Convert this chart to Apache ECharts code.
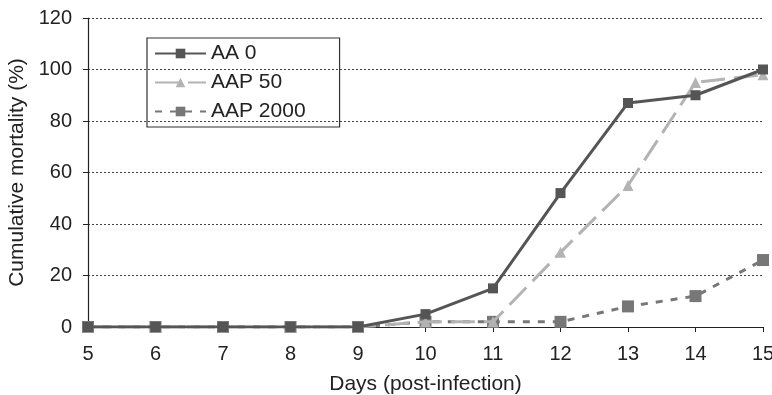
<!DOCTYPE html>
<html>
<head>
<meta charset="utf-8">
<script src="https://cdn.jsdelivr.net/npm/echarts@6/dist/echarts.min.js"></script>
<style>
  html, body { margin: 0; padding: 0; background: #fff; }
  #chart { width: 772px; height: 395px; }
</style>
</head>
<body>
<div id="chart"></div>
<script>
// 横轴：感染后天数
const days = [5, 6, 7, 8, 9, 10, 11, 12, 13, 14, 15]
// 累计死亡率 (%)
const aa0 = [0, 0, 0, 0, 0, 5, 15, 52, 87, 90, 100]
const aap50 = [0, 0, 0, 0, 0, 2, 2, 29, 55, 95, 98]
const aap2000 = [0, 0, 0, 0, 0, 2, 2, 2, 8, 12, 26]
const seriesNames = ['AA 0', 'AAP 50', 'AAP 2000']

const font = 'Liberation Sans, Arial, sans-serif'
const pairs = (vals) => days.map((d, i) => [d, vals[i]])

const myChart = echarts.init(document.getElementById('chart'))

const option = {
  animation: false,
  textStyle: { fontFamily: font },
  grid: {
    left: 88,
    right: 9,
    top: 18,
    bottom: 68,
    outerBoundsMode: 'none',
    containLabel: false,
  },
  legend: {
    orient: 'vertical',
    left: 147,
    top: 38,
    padding: [5, 34, 5, 7],
    itemGap: 8,
    itemWidth: 51,
    itemHeight: 12,
    borderColor: '#333',
    borderWidth: 1.2,
    textStyle: { fontSize: 21, color: '#222', fontFamily: font },
    data: seriesNames,
  },
  xAxis: {
    type: 'value',
    min: 5,
    max: 15,
    interval: 1,
    name: 'Days (post-infection)',
    nameLocation: 'middle',
    nameGap: 47,
    nameTextStyle: { fontSize: 21, color: '#222' },
    axisLine: { lineStyle: { color: '#222', width: 1.2 } },
    axisTick: { show: true, length: 5, lineStyle: { color: '#222' } },
    axisLabel: { fontSize: 20, color: '#222', margin: 17 },
    splitLine: { show: false },
  },
  yAxis: {
    type: 'value',
    min: 0,
    max: 120,
    interval: 20,
    name: 'Cumulative mortality (%)',
    nameLocation: 'middle',
    nameGap: 57,
    nameTextStyle: { fontSize: 21, color: '#222' },
    axisLine: { show: true, lineStyle: { color: '#222', width: 1.2 } },
    axisTick: { show: true, length: 5, lineStyle: { color: '#222' } },
    axisLabel: { fontSize: 20, color: '#222', margin: 16 },
    splitLine: {
      show: true,
      lineStyle: { color: '#444', type: [2, 2], width: 1 },
    },
  },
  series: [
    {
      type: 'line',
      name: seriesNames[2],
      data: pairs(aap2000),
      symbol: 'rect',
      symbolSize: 12,
      z: 2,
      lineStyle: { color: '#777', width: 3, type: [7, 8] },
      itemStyle: { color: '#777' },
    },
    {
      type: 'line',
      name: seriesNames[1],
      data: pairs(aap50),
      symbol: 'triangle',
      symbolSize: 11,
      z: 3,
      lineStyle: { color: '#b3b3b3', width: 3, type: [24, 9] },
      itemStyle: { color: '#b3b3b3' },
    },
    {
      type: 'line',
      name: seriesNames[0],
      data: pairs(aa0),
      symbol: 'rect',
      symbolSize: 10,
      z: 4,
      lineStyle: { color: '#555', width: 3 },
      itemStyle: { color: '#555' },
    },
  ],
}

myChart.setOption(option)
</script>
</body>
</html>
